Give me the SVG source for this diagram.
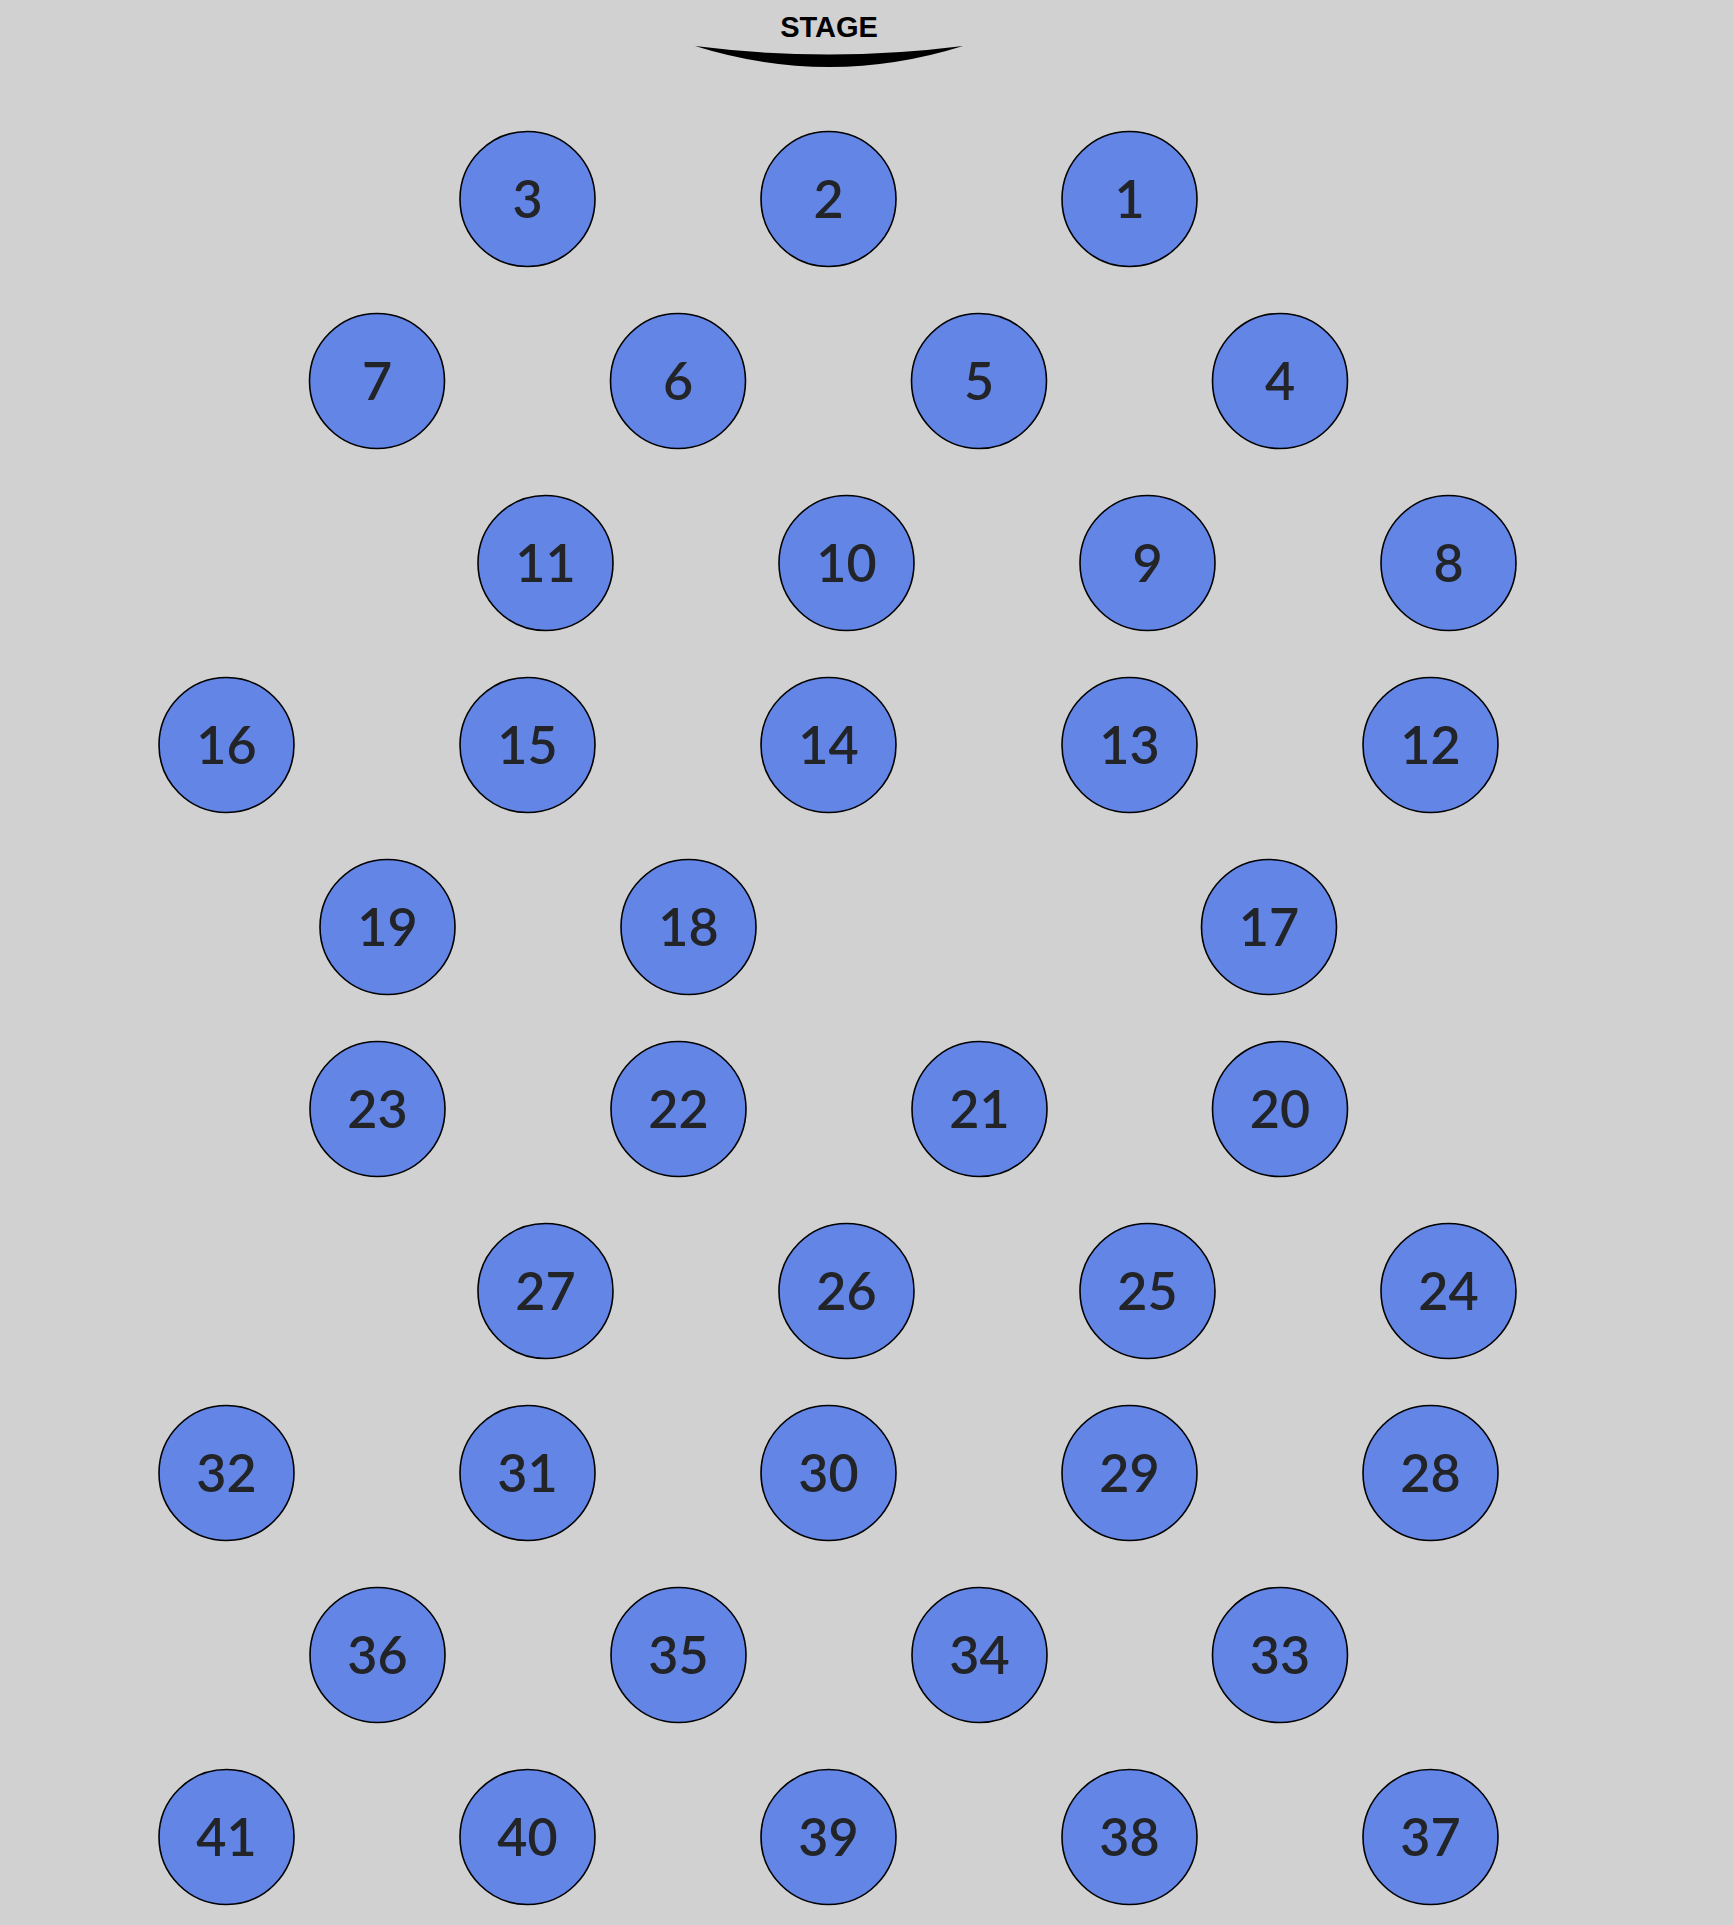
<svg xmlns="http://www.w3.org/2000/svg" width="1733" height="1925" viewBox="0 0 1733 1925">
<style>
.seat circle{fill:#6285e6;stroke:#000;stroke-width:1.6}
.seat text{font-family:Lato,"Open Sans","DejaVu Sans",sans-serif;font-size:52px;font-weight:600;fill:#222428;text-anchor:middle}
.stage{font-family:"Liberation Sans",Arial,sans-serif;font-weight:700;font-size:29px;fill:#000;text-anchor:middle}
</style>
<rect width="1733" height="1925" fill="#d1d1d1"/>
<g id="stage">
<text class="stage" x="829" y="37">STAGE</text>
<path d="M695,46 Q829,63 963,46 Q829,88 695,46 Z" fill="#000"/>
</g>
<g id="connectors"/>
<g id="s3" class="seat"><circle cx="527.5" cy="199" r="67.5"/><text x="527.5" y="217.5">3</text></g>
<g id="s2" class="seat"><circle cx="828.5" cy="199" r="67.5"/><text x="828.5" y="217.5">2</text></g>
<g id="s1" class="seat"><circle cx="1129.5" cy="199" r="67.5"/><text x="1129.5" y="217.5">1</text></g>
<g id="s7" class="seat"><circle cx="377" cy="381" r="67.5"/><text x="377" y="399.5">7</text></g>
<g id="s6" class="seat"><circle cx="678" cy="381" r="67.5"/><text x="678" y="399.5">6</text></g>
<g id="s5" class="seat"><circle cx="979" cy="381" r="67.5"/><text x="979" y="399.5">5</text></g>
<g id="s4" class="seat"><circle cx="1280" cy="381" r="67.5"/><text x="1280" y="399.5">4</text></g>
<g id="s11" class="seat"><circle cx="545.5" cy="563" r="67.5"/><text x="545.5" y="581.5">11</text></g>
<g id="s10" class="seat"><circle cx="846.5" cy="563" r="67.5"/><text x="846.5" y="581.5">10</text></g>
<g id="s9" class="seat"><circle cx="1147.5" cy="563" r="67.5"/><text x="1147.5" y="581.5">9</text></g>
<g id="s8" class="seat"><circle cx="1448.5" cy="563" r="67.5"/><text x="1448.5" y="581.5">8</text></g>
<g id="s16" class="seat"><circle cx="226.5" cy="745" r="67.5"/><text x="226.5" y="763.5">16</text></g>
<g id="s15" class="seat"><circle cx="527.5" cy="745" r="67.5"/><text x="527.5" y="763.5">15</text></g>
<g id="s14" class="seat"><circle cx="828.5" cy="745" r="67.5"/><text x="828.5" y="763.5">14</text></g>
<g id="s13" class="seat"><circle cx="1129.5" cy="745" r="67.5"/><text x="1129.5" y="763.5">13</text></g>
<g id="s12" class="seat"><circle cx="1430.5" cy="745" r="67.5"/><text x="1430.5" y="763.5">12</text></g>
<g id="s19" class="seat"><circle cx="387.5" cy="927" r="67.5"/><text x="387.5" y="945.5">19</text></g>
<g id="s18" class="seat"><circle cx="688.5" cy="927" r="67.5"/><text x="688.5" y="945.5">18</text></g>
<g id="s17" class="seat"><circle cx="1269" cy="927" r="67.5"/><text x="1269" y="945.5">17</text></g>
<g id="s23" class="seat"><circle cx="377.5" cy="1109" r="67.5"/><text x="377.5" y="1127.5">23</text></g>
<g id="s22" class="seat"><circle cx="678.5" cy="1109" r="67.5"/><text x="678.5" y="1127.5">22</text></g>
<g id="s21" class="seat"><circle cx="979.5" cy="1109" r="67.5"/><text x="979.5" y="1127.5">21</text></g>
<g id="s20" class="seat"><circle cx="1280" cy="1109" r="67.5"/><text x="1280" y="1127.5">20</text></g>
<g id="s27" class="seat"><circle cx="545.5" cy="1291" r="67.5"/><text x="545.5" y="1309.5">27</text></g>
<g id="s26" class="seat"><circle cx="846.5" cy="1291" r="67.5"/><text x="846.5" y="1309.5">26</text></g>
<g id="s25" class="seat"><circle cx="1147.5" cy="1291" r="67.5"/><text x="1147.5" y="1309.5">25</text></g>
<g id="s24" class="seat"><circle cx="1448.5" cy="1291" r="67.5"/><text x="1448.5" y="1309.5">24</text></g>
<g id="s32" class="seat"><circle cx="226.5" cy="1473" r="67.5"/><text x="226.5" y="1491.5">32</text></g>
<g id="s31" class="seat"><circle cx="527.5" cy="1473" r="67.5"/><text x="527.5" y="1491.5">31</text></g>
<g id="s30" class="seat"><circle cx="828.5" cy="1473" r="67.5"/><text x="828.5" y="1491.5">30</text></g>
<g id="s29" class="seat"><circle cx="1129.5" cy="1473" r="67.5"/><text x="1129.5" y="1491.5">29</text></g>
<g id="s28" class="seat"><circle cx="1430.5" cy="1473" r="67.5"/><text x="1430.5" y="1491.5">28</text></g>
<g id="s36" class="seat"><circle cx="377.5" cy="1655" r="67.5"/><text x="377.5" y="1673.5">36</text></g>
<g id="s35" class="seat"><circle cx="678.5" cy="1655" r="67.5"/><text x="678.5" y="1673.5">35</text></g>
<g id="s34" class="seat"><circle cx="979.5" cy="1655" r="67.5"/><text x="979.5" y="1673.5">34</text></g>
<g id="s33" class="seat"><circle cx="1280" cy="1655" r="67.5"/><text x="1280" y="1673.5">33</text></g>
<g id="s41" class="seat"><circle cx="226.5" cy="1837" r="67.5"/><text x="226.5" y="1855.5">41</text></g>
<g id="s40" class="seat"><circle cx="527.5" cy="1837" r="67.5"/><text x="527.5" y="1855.5">40</text></g>
<g id="s39" class="seat"><circle cx="828.5" cy="1837" r="67.5"/><text x="828.5" y="1855.5">39</text></g>
<g id="s38" class="seat"><circle cx="1129.5" cy="1837" r="67.5"/><text x="1129.5" y="1855.5">38</text></g>
<g id="s37" class="seat"><circle cx="1430.5" cy="1837" r="67.5"/><text x="1430.5" y="1855.5">37</text></g>
</svg>
